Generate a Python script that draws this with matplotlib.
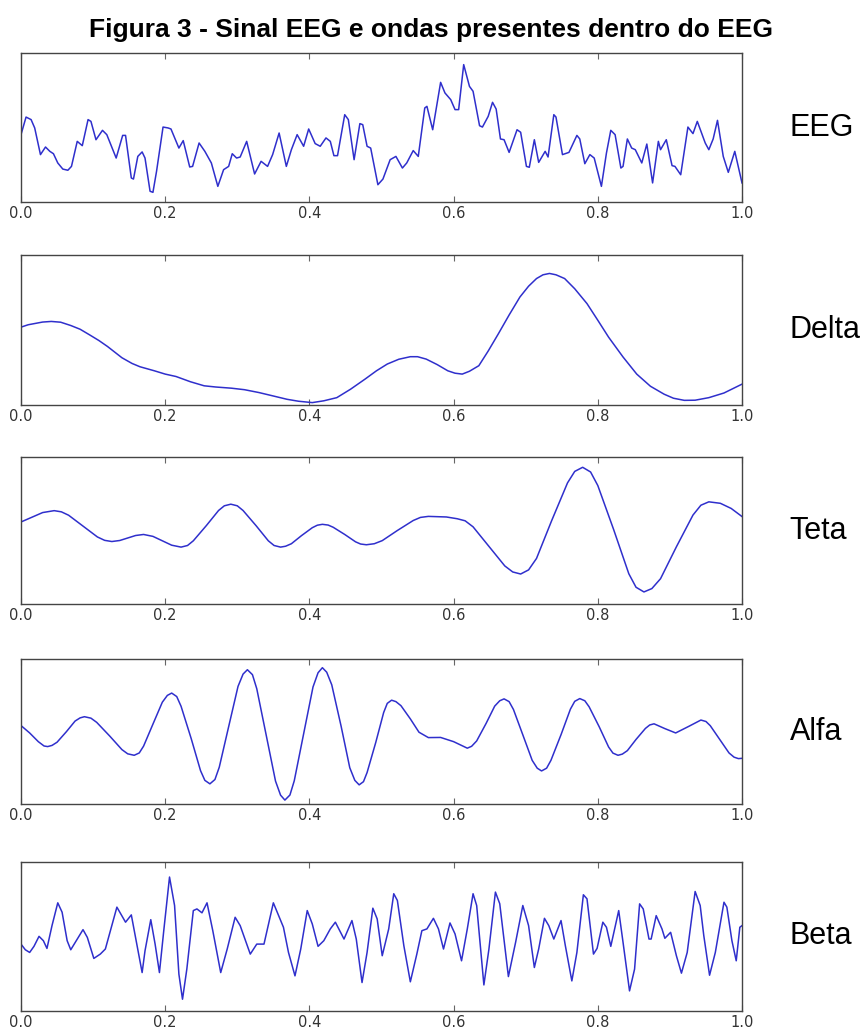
import matplotlib
matplotlib.use("Agg")
import matplotlib.pyplot as plt

# Sinais (tempo normalizado 0..1, amplitude relativa 0..1)
eeg_t = [0.000, 0.007, 0.014, 0.019, 0.027, 0.034, 0.040, 0.045, 0.051, 0.058, 0.065, 0.070, 0.078, 0.085,
         0.093, 0.097, 0.104, 0.113, 0.119, 0.132, 0.141, 0.145, 0.153, 0.156, 0.162, 0.168, 0.172, 0.179,
         0.183, 0.188, 0.197, 0.204, 0.208, 0.219, 0.225, 0.234, 0.238, 0.247, 0.255, 0.264, 0.273, 0.281,
         0.288, 0.293, 0.299, 0.304, 0.313, 0.324, 0.333, 0.342, 0.349, 0.358,
         0.368, 0.375, 0.383, 0.392, 0.399, 0.408, 0.415, 0.423, 0.429, 0.434, 0.439, 0.449, 0.454, 0.462,
         0.470, 0.474, 0.480, 0.485, 0.495, 0.502, 0.512, 0.520, 0.529, 0.535, 0.544, 0.551, 0.560, 0.563,
         0.571, 0.582, 0.588, 0.596, 0.602, 0.607, 0.614, 0.622, 0.627, 0.636, 0.640, 0.648, 0.654, 0.659,
         0.665, 0.670, 0.677, 0.688, 0.693, 0.701, 0.705, 0.712, 0.718,
         0.727, 0.731, 0.739, 0.742, 0.751, 0.760, 0.771, 0.775, 0.782, 0.789, 0.795, 0.805, 0.812, 0.818,
         0.824, 0.832, 0.835, 0.841, 0.847, 0.852, 0.861, 0.868, 0.876, 0.884, 0.887, 0.895, 0.903, 0.907,
         0.915, 0.925, 0.932, 0.938, 0.949, 0.954, 0.960, 0.966, 0.974, 0.981, 0.990, 1.000]
eeg_v = [0.452, 0.570, 0.553, 0.497, 0.318, 0.369, 0.340, 0.324, 0.262, 0.221, 0.213, 0.239, 0.407, 0.378,
         0.553, 0.541, 0.418, 0.481, 0.452, 0.295, 0.447, 0.447, 0.161, 0.154, 0.306, 0.336, 0.295, 0.072,
         0.065, 0.206, 0.503, 0.497, 0.490, 0.362, 0.412, 0.235, 0.239, 0.396, 0.340, 0.262, 0.105, 0.217,
         0.239, 0.324, 0.295, 0.302, 0.407, 0.188, 0.273, 0.239, 0.318, 0.463,
         0.239, 0.351, 0.452, 0.374, 0.490, 0.392, 0.374, 0.430, 0.407, 0.311, 0.311, 0.586, 0.553, 0.284,
         0.526, 0.519, 0.374, 0.362, 0.116, 0.154, 0.284, 0.306, 0.228, 0.262, 0.345, 0.306, 0.631, 0.642,
         0.485, 0.803, 0.732, 0.687, 0.620, 0.620, 0.922, 0.776, 0.743, 0.512, 0.503, 0.575, 0.669, 0.624,
         0.423, 0.418, 0.333, 0.485, 0.468, 0.239, 0.233, 0.418, 0.266,
         0.340, 0.302, 0.586, 0.570, 0.318, 0.333, 0.447, 0.423, 0.257, 0.318, 0.295, 0.105, 0.329, 0.481,
         0.452, 0.228, 0.239, 0.423, 0.362, 0.351, 0.262, 0.389, 0.128, 0.407, 0.351, 0.418, 0.244, 0.239,
         0.183, 0.503, 0.459, 0.541, 0.396, 0.351, 0.423, 0.548, 0.306, 0.199, 0.340, 0.128]

delta_t = [0.000, 0.010, 0.030, 0.042, 0.055, 0.069, 0.082, 0.095, 0.108, 0.120, 0.140, 0.154, 0.165, 0.185,
           0.200, 0.215, 0.235, 0.254, 0.270, 0.292, 0.310, 0.330, 0.350, 0.369, 0.385, 0.404, 0.420, 0.438,
           0.457, 0.477, 0.493, 0.508, 0.524, 0.540, 0.550, 0.562, 0.577, 0.592, 0.602, 0.612, 0.622, 0.635,
           0.648, 0.662, 0.677, 0.692, 0.704, 0.715, 0.724, 0.733, 0.742, 0.754, 0.768, 0.785, 0.800, 0.815,
           0.835, 0.854, 0.873, 0.892, 0.905, 0.920, 0.935, 0.954, 0.975, 1.000]
delta_v = [0.519, 0.535, 0.553, 0.557, 0.552, 0.530, 0.505, 0.468, 0.430, 0.390, 0.315, 0.277, 0.255, 0.228,
           0.206, 0.190, 0.155, 0.128, 0.120, 0.112, 0.102, 0.083, 0.060, 0.038, 0.025, 0.016, 0.028, 0.049,
           0.105, 0.172, 0.228, 0.273, 0.305, 0.322, 0.322, 0.306, 0.270, 0.228, 0.212, 0.206, 0.225, 0.262,
           0.360, 0.474, 0.600, 0.720, 0.792, 0.843, 0.868, 0.877, 0.868, 0.843, 0.775, 0.676, 0.565, 0.452,
           0.320, 0.206, 0.125, 0.072, 0.045, 0.031, 0.032, 0.049, 0.080, 0.139]

teta_t = [0.000, 0.015, 0.030, 0.046, 0.056, 0.066, 0.086, 0.106, 0.116, 0.126, 0.137, 0.148, 0.159, 0.170,
          0.183, 0.196, 0.209, 0.222, 0.231, 0.239, 0.257, 0.274, 0.282, 0.291, 0.300, 0.308, 0.326, 0.343,
          0.351, 0.360, 0.367, 0.375, 0.389, 0.404, 0.411, 0.418, 0.426, 0.433, 0.449, 0.464, 0.471, 0.479,
          0.490, 0.501, 0.522, 0.544, 0.554, 0.565, 0.590, 0.605, 0.616, 0.627, 0.649, 0.671, 0.682, 0.693,
          0.704, 0.715, 0.736, 0.758, 0.768, 0.779, 0.790, 0.800, 0.822, 0.843, 0.853, 0.864, 0.875, 0.887,
          0.909, 0.932, 0.943, 0.954, 0.970, 0.985, 1.000]
teta_v = [0.558, 0.590, 0.622, 0.635, 0.627, 0.604, 0.530, 0.456, 0.433, 0.425, 0.432, 0.449, 0.466, 0.473,
          0.460, 0.430, 0.400, 0.387, 0.398, 0.430, 0.533, 0.636, 0.668, 0.679, 0.668, 0.636, 0.533, 0.430,
          0.398, 0.387, 0.393, 0.410, 0.465, 0.519, 0.536, 0.542, 0.537, 0.522, 0.473, 0.423, 0.408, 0.403,
          0.410, 0.431, 0.500, 0.568, 0.589, 0.596, 0.592, 0.580, 0.566, 0.525, 0.392, 0.259, 0.218, 0.204,
          0.232, 0.310, 0.567, 0.824, 0.902, 0.930, 0.898, 0.806, 0.506, 0.206, 0.114, 0.082, 0.105, 0.172,
          0.389, 0.605, 0.672, 0.695, 0.685, 0.650, 0.595]

alfa_t = [0.000, 0.012, 0.024, 0.032, 0.037, 0.043, 0.050, 0.063, 0.075, 0.082, 0.088, 0.097, 0.105, 0.123,
          0.140, 0.148, 0.157, 0.164, 0.170, 0.183, 0.196, 0.203, 0.209, 0.216, 0.222, 0.236, 0.249, 0.255,
          0.262, 0.269, 0.275, 0.288, 0.301, 0.308, 0.314, 0.321, 0.327, 0.340, 0.353, 0.360, 0.366, 0.373,
          0.379, 0.392, 0.405, 0.412, 0.418, 0.424, 0.431, 0.444, 0.456, 0.463, 0.469, 0.475, 0.480, 0.492,
          0.503, 0.508, 0.514, 0.520, 0.527, 0.540, 0.552, 0.565, 0.582, 0.600, 0.619, 0.625, 0.632, 0.645,
          0.657, 0.664, 0.670, 0.677, 0.683, 0.696, 0.709, 0.716, 0.722, 0.729, 0.735, 0.749, 0.762, 0.768,
          0.775, 0.782, 0.788, 0.802, 0.815, 0.821, 0.828, 0.834, 0.841, 0.853, 0.866, 0.872, 0.878, 0.893,
          0.908, 0.926, 0.943, 0.950, 0.956, 0.969, 0.982, 0.989, 0.995, 1.000]
alfa_v = [0.541, 0.490, 0.430, 0.400, 0.396, 0.404, 0.426, 0.499, 0.572, 0.594, 0.602, 0.592, 0.563, 0.469,
          0.375, 0.346, 0.336, 0.352, 0.399, 0.551, 0.702, 0.749, 0.765, 0.741, 0.674, 0.452, 0.230, 0.163,
          0.139, 0.169, 0.254, 0.533, 0.811, 0.896, 0.926, 0.892, 0.795, 0.477, 0.158, 0.061, 0.027, 0.062,
          0.160, 0.484, 0.807, 0.905, 0.940, 0.909, 0.822, 0.536, 0.250, 0.163, 0.132, 0.154, 0.217, 0.424,
          0.631, 0.694, 0.716, 0.706, 0.678, 0.587, 0.495, 0.458, 0.459, 0.430, 0.385, 0.398, 0.435, 0.555,
          0.675, 0.712, 0.725, 0.706, 0.652, 0.477, 0.301, 0.247, 0.228, 0.247, 0.301, 0.478, 0.654, 0.708,
          0.727, 0.712, 0.670, 0.532, 0.393, 0.351, 0.336, 0.344, 0.368, 0.445, 0.521, 0.545, 0.553, 0.520,
          0.490, 0.535, 0.579, 0.569, 0.540, 0.446, 0.352, 0.323, 0.313, 0.315]

beta_t = [0.000, 0.006, 0.012, 0.018, 0.025, 0.031, 0.036, 0.043, 0.051, 0.057, 0.064, 0.069, 0.078, 0.086,
          0.092, 0.101, 0.110, 0.117, 0.124, 0.133, 0.145, 0.153, 0.161, 0.168, 0.172, 0.180, 0.186, 0.192,
          0.198, 0.206, 0.213, 0.219, 0.224, 0.230, 0.239, 0.244, 0.251, 0.258, 0.266, 0.277, 0.286, 0.297,
          0.304, 0.318, 0.327, 0.337, 0.350,
          0.364, 0.371, 0.380, 0.388, 0.397, 0.404, 0.412, 0.420, 0.429, 0.436, 0.442, 0.448, 0.459, 0.465,
          0.473, 0.480, 0.488, 0.494, 0.501, 0.510, 0.517, 0.522, 0.531, 0.540, 0.549, 0.556, 0.563, 0.572,
          0.579, 0.586, 0.595, 0.602, 0.611, 0.619, 0.627, 0.632, 0.642, 0.649, 0.658, 0.664, 0.676, 0.686,
          0.696, 0.704, 0.712, 0.718,
          0.726, 0.732, 0.739, 0.749, 0.755, 0.764, 0.771, 0.780, 0.785, 0.794, 0.799, 0.807, 0.812, 0.818,
          0.829, 0.835, 0.844, 0.851, 0.858, 0.863, 0.871, 0.874, 0.881, 0.889, 0.893, 0.901, 0.909, 0.916,
          0.924, 0.935, 0.942, 0.947, 0.955, 0.963, 0.975, 0.979, 0.986, 0.992, 0.997, 1.000]
beta_v = [0.449, 0.411, 0.393, 0.434, 0.501, 0.472, 0.420, 0.573, 0.726, 0.663, 0.472, 0.411, 0.483, 0.546,
          0.494, 0.353, 0.382, 0.416, 0.539, 0.697, 0.596, 0.645, 0.438, 0.258, 0.404, 0.613, 0.449, 0.258,
          0.539, 0.899, 0.708, 0.247, 0.079, 0.281, 0.674, 0.685, 0.659, 0.726, 0.539, 0.258, 0.416, 0.629,
          0.573, 0.382, 0.449, 0.449, 0.726,
          0.562, 0.393, 0.236, 0.416, 0.674, 0.584, 0.434, 0.472, 0.551, 0.596, 0.539, 0.483, 0.607, 0.483,
          0.191, 0.393, 0.690, 0.618, 0.371, 0.551, 0.787, 0.742, 0.438, 0.196, 0.382, 0.539, 0.551, 0.622,
          0.551, 0.416, 0.591, 0.517, 0.337, 0.551, 0.787, 0.708, 0.175, 0.416, 0.798, 0.720, 0.231, 0.461,
          0.708, 0.573, 0.292, 0.416,
          0.622, 0.573, 0.483, 0.607, 0.438, 0.202, 0.393, 0.780, 0.753, 0.382, 0.420, 0.596, 0.562, 0.434,
          0.674, 0.461, 0.135, 0.281, 0.719, 0.685, 0.483, 0.483, 0.640, 0.551, 0.488, 0.528, 0.371, 0.254,
          0.393, 0.802, 0.708, 0.506, 0.240, 0.393, 0.730, 0.697, 0.472, 0.337, 0.562, 0.573]

nomes = ["EEG", "Delta", "Teta", "Alfa", "Beta"]
sinais = [(eeg_t, eeg_v), (delta_t, delta_v), (teta_t, teta_v), (alfa_t, alfa_v), (beta_t, beta_v)]
ticks = [0.0, 0.2, 0.4, 0.6, 0.8, 1.0]

W, H = 867, 1029
fig = plt.figure(figsize=(W / 100, H / 100), dpi=100)

# caixas dos eixos em pixels (topo, base)
caixas = [(53, 202), (255, 405), (457, 604), (659, 804), (862, 1011)]
x0, x1 = 21, 742

for nome, (t, v), (topo, base) in zip(nomes, sinais, caixas):
    ax = fig.add_axes([x0 / W, 1 - base / H, (x1 - x0) / W, (base - topo) / H])
    ax.plot(t, v, color="#2f2fcc", lw=1.1, solid_joinstyle="round")
    ax.set_xlim(0, 1)
    ax.set_ylim(0, 1)
    ax.set_yticks([])
    ax.set_xticks(ticks)
    ax.set_xticklabels(["%.1f" % k for k in ticks], fontsize=10.5, color="#333333")
    ax.tick_params(axis="x", direction="in", top=True, length=4, width=0.8, pad=3, color="#666666")
    for s in ax.spines.values():
        s.set_color("#444444")
        s.set_linewidth(1.0)
    ax.text(1.066, 0.5, nome, transform=ax.transAxes, va="center", ha="left",
            fontsize=22, family="Liberation Sans")

fig.text(0.497, 1 - 30 / H, "Figura 3 - Sinal EEG e ondas presentes dentro do EEG",
         ha="center", va="center", fontsize=19, weight="bold", family="Liberation Sans")

fig.savefig("out.png", dpi=100)
